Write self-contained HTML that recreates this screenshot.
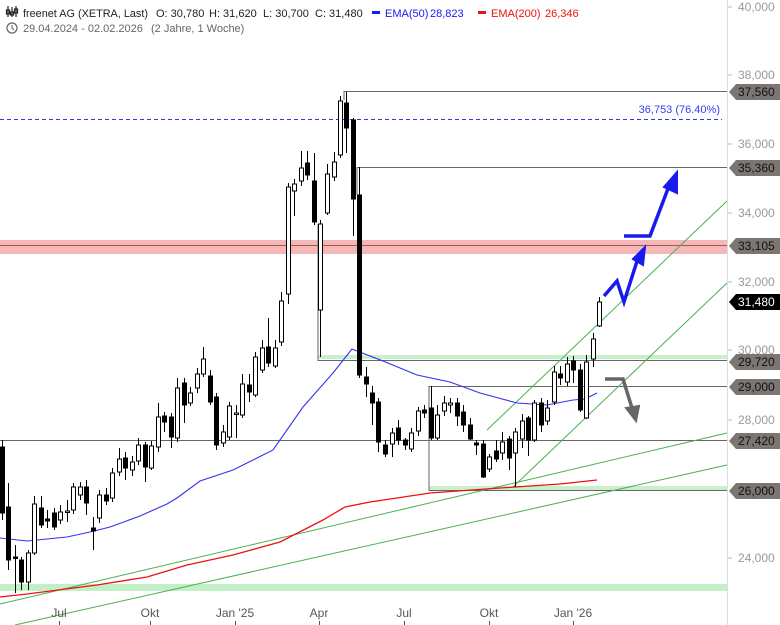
<!DOCTYPE html>
<html><head><meta charset="utf-8"><style>
body{margin:0;background:#fff;width:780px;height:625px;overflow:hidden;font-family:"Liberation Sans",sans-serif}
svg{display:block}
</style></head><body>
<svg id="s" width="780" height="625" xmlns="http://www.w3.org/2000/svg" font-family="Liberation Sans, sans-serif">
<rect width="780" height="625" fill="#fff"/>
<rect x="0" y="240" width="727" height="14" fill="#f5b8b8"/>
<rect x="0" y="584" width="727" height="7" fill="#c3efc6"/>
<rect x="318" y="355" width="409" height="4" fill="#c9efcb"/>
<rect x="429" y="486" width="298" height="4" fill="#c9efcb"/>
<g stroke="#666" stroke-width="1" fill="none">
<polyline points="344,100 344,91.5 727,91.5"/>
<polyline points="357,195 357,167.5 727,167.5"/>
<line x1="0" y1="245.5" x2="727" y2="245.5" stroke="#a55"/>
<polyline points="318,224 318,360.5 727,360.5"/>
<polyline points="429,490.5 429,386.5 727,386.5"/>
<line x1="0" y1="440.5" x2="727" y2="440.5"/>
<line x1="429" y1="490.5" x2="727" y2="490.5"/>
</g>
<line x1="0" y1="119.5" x2="722" y2="119.5" stroke="#33e" stroke-dasharray="4,3"/>
<text x="720" y="113" font-size="11" fill="#3344ee" text-anchor="end">36,753 (76.40%)</text>
<g stroke="#4caf50" stroke-width="1">
<line x1="0" y1="604" x2="727" y2="433"/>
<line x1="15" y1="625" x2="727" y2="465"/>
<line x1="487" y1="430" x2="727" y2="201"/>
<line x1="513" y1="487" x2="727" y2="283"/>
</g>
<polyline fill="none" stroke="#ee1111" stroke-width="1.3" points="0,597 27,594 97,585 147,577 187,565 233,555 280,542 323,520 345,507 370,502 430,493 500,488 560,484 597,480"/>
<polyline fill="none" stroke="#3333ee" stroke-width="1.1" points="0,538 27,541 67,537 90,532 110,527 140,516 167,504 177,498 200,481 233,470 273,450 303,407 333,373 352,349 383,361 417,375 450,382 480,393 517,403 547,405 573,400 585,399 597,393"/>
<g id="c"></g>
<g fill="none" stroke="#1a1aee" stroke-width="3.5" stroke-linejoin="miter">
<polyline points="604,296 617,281 624,302 638,258"/>
<polyline points="624,236 650,236 669,186"/>
</g>
<polygon points="633,259 645,247 643,265" fill="#1a1aee" stroke="#1a1aee" stroke-width="2"/>
<polygon points="664,187 677,172 677,193" fill="#1a1aee" stroke="#1a1aee" stroke-width="2"/>
<polyline points="605,379 623,379 632,408" fill="none" stroke="#666" stroke-width="3.5"/>
<polygon points="626,408 639,406 636,421" fill="#666" stroke="#666" stroke-width="2"/>
<line x1="727.5" y1="0" x2="727.5" y2="625" stroke="#ddd"/>
<g id="ax" font-size="12" fill="#999"></g>
<g font-size="12" fill="#555" text-anchor="middle">
<text x="59" y="617">Jul</text><text x="150" y="617">Okt</text><text x="235" y="617">Jan '25</text>
<text x="319" y="617">Apr</text><text x="404" y="617">Jul</text><text x="489" y="617">Okt</text><text x="573" y="617">Jan '26</text>
</g>
<g stroke="#555"><line x1="59.5" y1="621" x2="59.5" y2="625"/><line x1="150.5" y1="621" x2="150.5" y2="625"/><line x1="235.5" y1="621" x2="235.5" y2="625"/><line x1="319.5" y1="621" x2="319.5" y2="625"/><line x1="404.5" y1="621" x2="404.5" y2="625"/><line x1="489.5" y1="621" x2="489.5" y2="625"/><line x1="573.5" y1="621" x2="573.5" y2="625"/></g>
<g stroke="#222" stroke-width="1.2" fill="none"><line x1="8" y1="6" x2="8" y2="17"/><line x1="12" y1="7" x2="12" y2="17"/><line x1="16" y1="6" x2="16" y2="17"/><rect x="6.5" y="10" width="3" height="4"/><rect x="10.5" y="12" width="3" height="3"/><rect x="14.5" y="9" width="3" height="4"/></g>
<g font-size="11" fill="#222">
<text x="23" y="17" textLength="125" lengthAdjust="spacingAndGlyphs">freenet AG (XETRA, Last)</text>
<text x="156" y="17">O: 30,780</text>
<text x="209" y="17">H: 31,620</text>
<text x="263" y="17">L: 30,700</text>
<text x="315" y="17">C: 31,480</text>
</g>
<rect x="372" y="11" width="8" height="3" fill="#1a1aee"/>
<text x="385" y="17" font-size="11" fill="#1a1aee">EMA(50)</text><text x="430" y="17" font-size="11" fill="#1a1aee">28,823</text>
<rect x="478" y="11" width="8" height="3" fill="#e11"/>
<text x="491" y="17" font-size="11" fill="#e11">EMA(200)</text><text x="545" y="17" font-size="11" fill="#e11">26,346</text>
<circle cx="12" cy="28" r="5" fill="none" stroke="#666" stroke-width="1.2"/><polyline points="12,25 12,28 14,30" fill="none" stroke="#666" stroke-width="1.1"/>
<text x="23" y="32" font-size="11" fill="#666">29.04.2024 - 02.02.2026</text>
<text x="151" y="32" font-size="11" fill="#666">(2 Jahre, 1 Woche)</text>
</svg>
<script>
var C=[[0,447,513,440,520,0],[6,507,560,483,570,0],[13,557,558,545,593,0],[19,560,582,557,590,0],[26,582,553,550,590,1],[32,553,504,496,555,1],[39,508,525,496,528,0],[45,519,521,510,528,0],[52,513,527,508,530,0],[58,520,512,505,524,1],[65,511,511,500,522,1],[71,510,487,483,514,1],[78,495,487,482,500,1],[84,487,503,480,515,0],[91,528,531,517,550,0],[97,518,495,490,523,1],[104,495,501,488,505,0],[110,498,473,468,502,1],[117,472,459,448,476,1],[123,458,468,452,480,0],[130,470,462,456,476,1],[136,461,445,438,465,1],[143,445,467,442,482,0],[149,468,446,441,470,1],[156,447,417,403,452,1],[162,416,422,412,432,0],[169,417,437,413,448,0],[175,438,388,378,442,1],[182,383,405,378,423,0],[188,403,393,387,406,1],[195,388,374,368,393,1],[201,374,359,347,377,1],[208,376,402,370,405,0],[214,397,445,393,450,0],[221,443,432,425,447,1],[227,437,406,402,440,1],[234,413,414,405,438,1],[240,415,384,374,418,1],[247,385,392,374,402,0],[253,395,357,352,397,1],[260,370,348,340,373,1],[266,347,363,318,367,0],[273,366,348,340,368,1],[279,342,301,292,346,1],[286,294,187,183,304,1],[292,191,184,179,216,1],[299,181,168,151,186,1],[305,163,175,151,180,0],[312,181,222,153,225,0],[318,310,224,220,357,1],[325,213,174,164,215,1],[332,177,162,152,181,1],[338,155,101,96,158,1],[344,103,128,92,153,0],[351,120,199,118,236,0],[357,195,375,167,378,0],[364,377,384,367,397,0],[370,393,403,386,425,0],[376,402,442,398,452,0],[383,445,454,440,457,0],[390,444,433,428,457,1],[396,428,440,420,445,0],[403,440,445,438,450,0],[409,449,433,428,452,1],[416,431,411,407,436,1],[422,410,413,405,418,0],[429,408,438,386,440,0],[435,438,415,405,440,1],[442,411,403,396,416,1],[448,405,403,398,413,1],[455,403,416,398,426,0],[461,412,425,405,432,0],[468,425,439,418,440,0],[474,443,445,440,455,0],[481,444,477,440,478,0],[487,469,457,454,472,1],[494,451,459,440,462,0],[500,453,442,432,460,1],[507,439,458,436,470,0],[513,453,432,428,487,1],[520,439,421,414,448,1],[526,418,440,416,456,0],[532,440,403,400,442,1],[539,403,425,398,432,0],[545,421,408,400,425,1],[552,402,372,366,405,1],[558,374,378,366,385,0],[565,382,364,357,386,1],[571,361,370,356,383,0],[578,370,410,364,412,0],[584,418,362,355,419,1],[591,359,339,333,367,1],[597,326,302,297,327,1]];
var g=document.getElementById('c'),h='';
C.forEach(function(c){var x=c[0]+2.5,t=Math.min(c[1],c[2]),b=Math.max(c[1],c[2]);if(b-t<1.5)b=t+1.5;
h+='<line x1="'+x+'" y1="'+c[3]+'" x2="'+x+'" y2="'+c[4]+'" stroke="#000" stroke-width="1"/>';
h+='<rect x="'+(x-2)+'" y="'+t+'" width="4" height="'+(b-t)+'" fill="'+(c[5]?'#fff':'#000')+'" stroke="#000" stroke-width="1"/>';});
g.innerHTML=h;
var ax=document.getElementById('ax'),a='';
[[40000,7],[38000,75],[36000,144],[34000,213],[32000,282],[30000,350],[28000,420],[24000,558]].forEach(function(v){
a+='<line x1="728" y1="'+v[1]+'" x2="732" y2="'+v[1]+'" stroke="#bbb"/><text x="738" y="'+(v[1]+4)+'">'+v[0].toLocaleString('en-US')+'</text>';});
[['37,560',92,0],['35,360',168,0],['33,105',246,0],['31,480',302,1],['29,720',362,0],['29,000',387,0],['27,420',441,0],['26,000',491,0]].forEach(function(l){
var y=l[1];a+='<polygon points="729,'+y+' 736,'+(y-8)+' 780,'+(y-8)+' 780,'+(y+8)+' 736,'+(y+8)+'" fill="'+(l[2]?'#000':'#7b7672')+'"/><text x="738" y="'+(y+4)+'" fill="'+(l[2]?'#fff':'#111')+'">'+l[0]+'</text>';});
ax.innerHTML=a;
</script>
</body></html>
